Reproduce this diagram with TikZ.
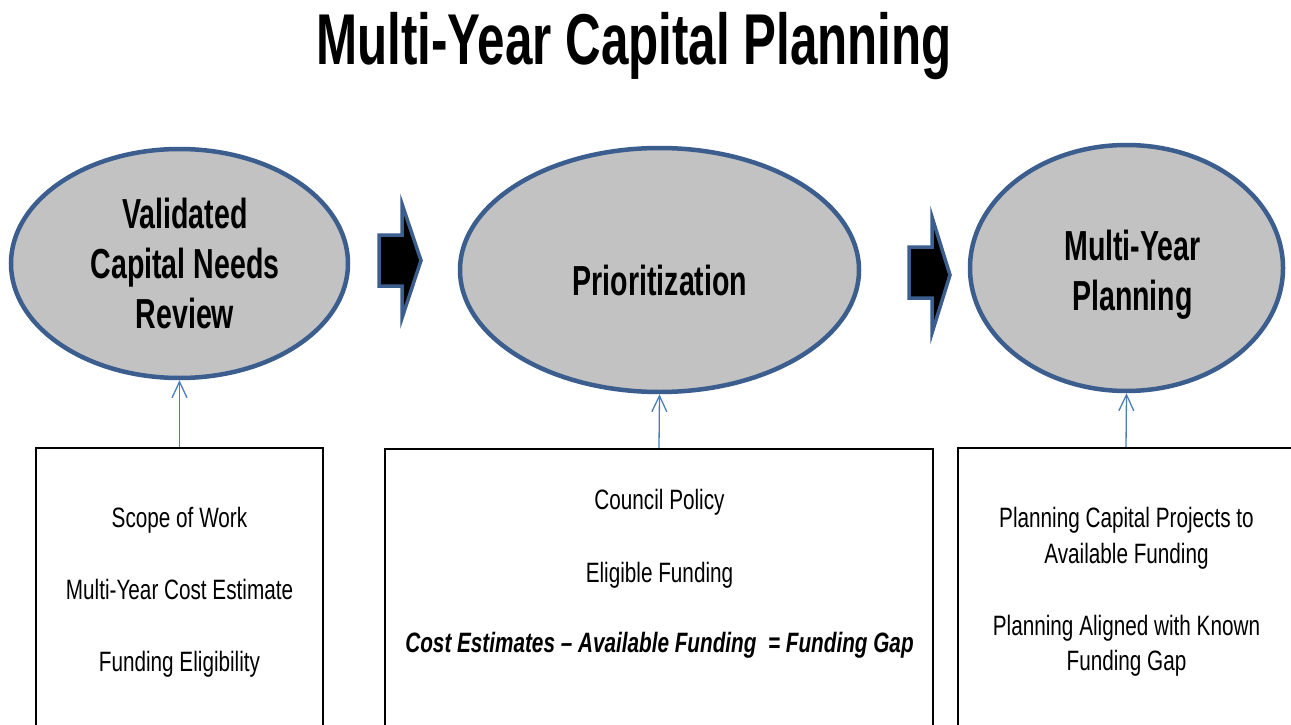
\documentclass[tikz,border=0pt]{standalone}
\usepackage{fontspec}
\setmainfont{Liberation Sans}[FakeStretch=0.74]
\newfontfamily\narrowbold{Liberation Sans}[FakeStretch=0.68]
\newfontfamily\titlebold{Liberation Sans}[FakeStretch=0.685]
\usetikzlibrary{shapes.geometric,arrows.meta}
\definecolor{ellborder}{HTML}{3B5E8F}
\definecolor{ellfill}{HTML}{C2C2C2}
\definecolor{linkblue}{HTML}{4A7EBB}
\tikzset{
  phase/.style={ellipse, draw=ellborder, fill=ellfill, line width=4.5pt, inner sep=0pt},
  phasetext/.style={anchor=base, inner sep=0pt, font=\narrowbold\bfseries\fontsize{42}{50}\selectfont},
  infobox/.style={draw=black, line width=1.8pt, fill=white, rectangle, inner sep=0pt, anchor=north},
  infotext/.style={anchor=base, inner sep=0pt, font=\fontsize{28}{36}\selectfont},
  link/.style={draw=linkblue, line width=1.3pt, -{Straight Barb[length=16pt,width=15pt]}},
  blockarrow/.style={fill=black, draw=ellborder, line width=3.5pt, line join=miter}
}
\begin{document}
\begin{tikzpicture}[x=1pt,y=-1pt]
\useasboundingbox (0,0) rectangle (1291,725);
\fill[white] (0,0) rectangle (1291,725);

% title
\node[anchor=base, inner sep=0pt, font=\titlebold\bfseries\fontsize{72}{80}\selectfont] (title) at (634,65) {Multi-Year Capital Planning};

% ellipses
\node[phase, minimum width=337pt, minimum height=229pt] (ell1) at (179.5,263.5) {};
\node[phase, minimum width=399pt, minimum height=244pt] (ell2) at (659.5,270) {};
\node[phase, minimum width=313pt, minimum height=246pt] (ell3) at (1126.5,268) {};

\node[phasetext] (e1a) at (185,228) {Validated};
\node[phasetext] (e1b) at (185,278) {Capital Needs};
\node[phasetext] (e1c) at (185,328) {Review};
\node[phasetext] (e2a) at (660,295) {Prioritization};
\node[phasetext] (e3a) at (1132.5,260) {Multi-Year};
\node[phasetext] (e3b) at (1132.5,310) {Planning};

% block arrows
\path[blockarrow] (379,235) -- (402,235) -- (402,204) -- (421,260.5) -- (402,318) -- (402,286) -- (379,286) -- cycle;
\path[blockarrow] (909,247) -- (932,247) -- (932,217) -- (950,275) -- (932,333) -- (932,298) -- (909,298) -- cycle;

% boxes
\node[infobox, minimum width=287pt, minimum height=300pt] (box1) at (179.5,447) {};
\node[infobox, minimum width=548pt, minimum height=300pt] (box2) at (659,448) {};
\node[infobox, minimum width=336pt, minimum height=300pt] (box3) at (1126,447) {};

% box texts
\node[infotext] (b1a) at (179.5,527) {Scope of Work};
\node[infotext] (b1b) at (179.5,599) {Multi-Year Cost Estimate};
\node[infotext] (b1c) at (179.5,671) {Funding Eligibility};

\node[infotext] (b2a) at (659.5,509) {Council Policy};
\node[infotext] (b2b) at (659.5,582) {Eligible Funding};
\node[infotext, font=\bfseries\itshape\fontsize{28}{36}\selectfont] (b2c) at (659.5,652) {Cost Estimates -- Available Funding\ \ = Funding Gap};

\node[infotext] (b3a) at (1126.5,527) {Planning Capital Projects to};
\node[infotext] (b3b) at (1126.5,563) {Available Funding};
\node[infotext] (b3c) at (1126.5,635) {Planning Aligned with Known};
\node[infotext] (b3d) at (1126.5,670) {Funding Gap};

% connectors
\draw[link] (box1.north) -- (ell1.south);
\draw[link] (box2.north) -- (ell2.south);
\draw[link] (box3.north) -- (ell3.south);
\end{tikzpicture}
\end{document}
